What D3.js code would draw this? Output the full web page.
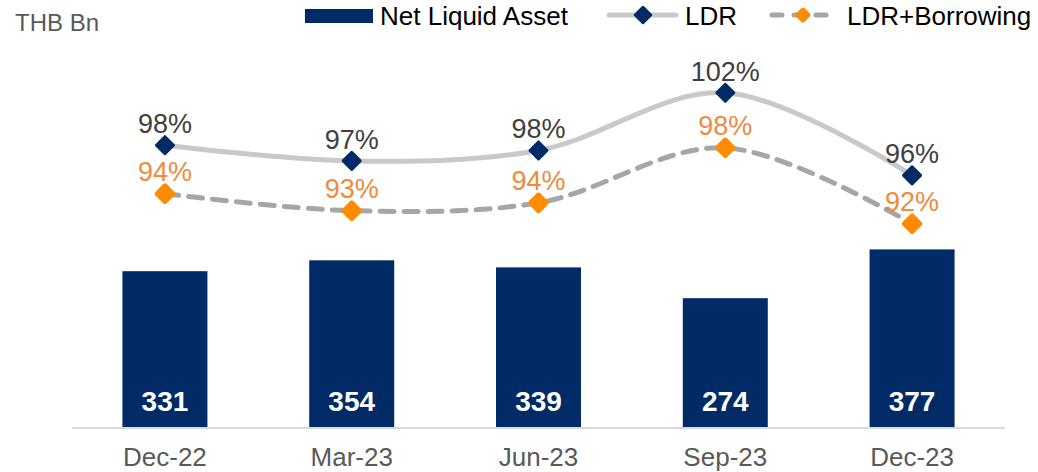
<!DOCTYPE html>
<html>
<head>
<meta charset="utf-8">
<script src="https://cdn.jsdelivr.net/npm/d3@7"></script>
<style>
  body { margin: 0; background: #fff; }
  svg { display: block; font-family: "Liberation Sans", Arial, sans-serif; }
</style>
</head>
<body>
<svg id="chart"></svg>
<script>
// chart data
const periods = ["Dec-22", "Mar-23", "Jun-23", "Sep-23", "Dec-23"];
const netLiquid = [331, 354, 339, 274, 377];
const ldr = [98.0, 96.8, 97.6, 102.0, 95.7];
const ldrBorrow = [94.3, 93.0, 93.6, 97.8, 92.0];

const width = 1038, height = 472;
const navy = "#002b66", orange = "#ff8c00", orangeText = "#f08a3c";

const svg = d3.select("#chart").attr("width", width).attr("height", height);

const x = d3.scaleBand().domain(periods).range([72, 1005]).paddingInner(0.545).paddingOuter(0.27);
const yBar = d3.scaleLinear().domain([0, 800]).range([428, 49]);
const yPct = d3.scaleLinear().domain([85, 105]).range([315.5, 53.5]);
const cx = d => x(d) + x.bandwidth() / 2;

// unit label
svg.append("text").attr("x", 15).attr("y", 31)
  .attr("font-size", 24).attr("fill", "#595959").text("THB Bn");

// bars
svg.append("g").selectAll("rect").data(periods).join("rect")
  .attr("x", d => x(d)).attr("width", x.bandwidth())
  .attr("y", (d, i) => yBar(netLiquid[i]))
  .attr("height", (d, i) => yBar(0) - yBar(netLiquid[i]))
  .attr("fill", navy);

svg.append("g").selectAll("text").data(periods).join("text")
  .attr("x", cx).attr("y", 411)
  .attr("text-anchor", "middle").attr("font-size", 28).attr("font-weight", "bold")
  .attr("fill", "#fff")
  .text((d, i) => netLiquid[i]);

// x axis
const xAxis = svg.append("g").attr("transform", "translate(0,428)")
  .call(d3.axisBottom(x).tickSize(0).tickPadding(0));
xAxis.select(".domain").attr("stroke", "#d9d9d9").attr("stroke-width", 2)
  .attr("d", "M72,0H1005");
xAxis.selectAll("text").attr("font-size", 26).attr("fill", "#595959")
  .attr("font-family", "Liberation Sans, Arial, sans-serif")
  .attr("dy", null).attr("y", 38);

// lines
const line = d3.line().curve(d3.curveCatmullRom.alpha(0.5));
const ptsLdr = periods.map((p, i) => [cx(p), yPct(ldr[i])]);
const ptsBor = periods.map((p, i) => [cx(p), yPct(ldrBorrow[i])]);

svg.append("path").attr("d", line(ptsLdr)).attr("fill", "none")
  .attr("stroke", "#c9c9c9").attr("stroke-width", 5);
svg.append("path").attr("d", line(ptsBor)).attr("fill", "none")
  .attr("stroke", "#a6a6a6").attr("stroke-width", 5)
  .attr("stroke-dasharray", "14,10").attr("stroke-linecap", "round");

function marker(g, px, py, color, s, stroke) {
  g.append("rect").attr("x", -s / 2).attr("y", -s / 2).attr("width", s).attr("height", s)
    .attr("rx", 1.5)
    .attr("transform", `translate(${px},${py}) rotate(45)`)
    .attr("fill", color).attr("stroke", stroke || "none").attr("stroke-width", 2);
}

const mk = svg.append("g");
ptsBor.forEach(p => marker(mk, p[0], p[1], orange, 14, orange));
ptsLdr.forEach(p => marker(mk, p[0], p[1], navy, 15));

const fmt = d3.format(".0f");
svg.append("g").selectAll("text").data(ptsLdr).join("text")
  .attr("x", d => d[0]).attr("y", d => d[1] - 12)
  .attr("text-anchor", "middle").attr("font-size", 27).attr("fill", "#404040")
  .text((d, i) => fmt(ldr[i]) + "%");
svg.append("g").selectAll("text").data(ptsBor).join("text")
  .attr("x", d => d[0]).attr("y", d => d[1] - 13)
  .attr("text-anchor", "middle").attr("font-size", 27).attr("fill", orangeText)
  .text((d, i) => fmt(ldrBorrow[i]) + "%");

// legend
const lg = svg.append("g");
lg.append("rect").attr("x", 305).attr("y", 9).attr("width", 68).attr("height", 14).attr("fill", navy);
lg.append("text").attr("x", 380).attr("y", 25).attr("font-size", 26).attr("fill", "#000").text("Net Liquid Asset");

lg.append("line").attr("x1", 609).attr("x2", 676).attr("y1", 15).attr("y2", 15)
  .attr("stroke", "#c9c9c9").attr("stroke-width", 5).attr("stroke-linecap", "round");
marker(lg, 643, 15, navy, 14);
lg.append("text").attr("x", 685).attr("y", 25).attr("font-size", 26).attr("fill", "#000").text("LDR");

lg.append("line").attr("x1", 772).attr("x2", 832).attr("y1", 15).attr("y2", 15)
  .attr("stroke", "#a6a6a6").attr("stroke-width", 5).attr("stroke-linecap", "round")
  .attr("stroke-dasharray", "10,12");
marker(lg, 803, 15, orange, 10, orange);
lg.append("text").attr("x", 847).attr("y", 25).attr("font-size", 26).attr("fill", "#000").text("LDR+Borrowing");
</script>
</body>
</html>
